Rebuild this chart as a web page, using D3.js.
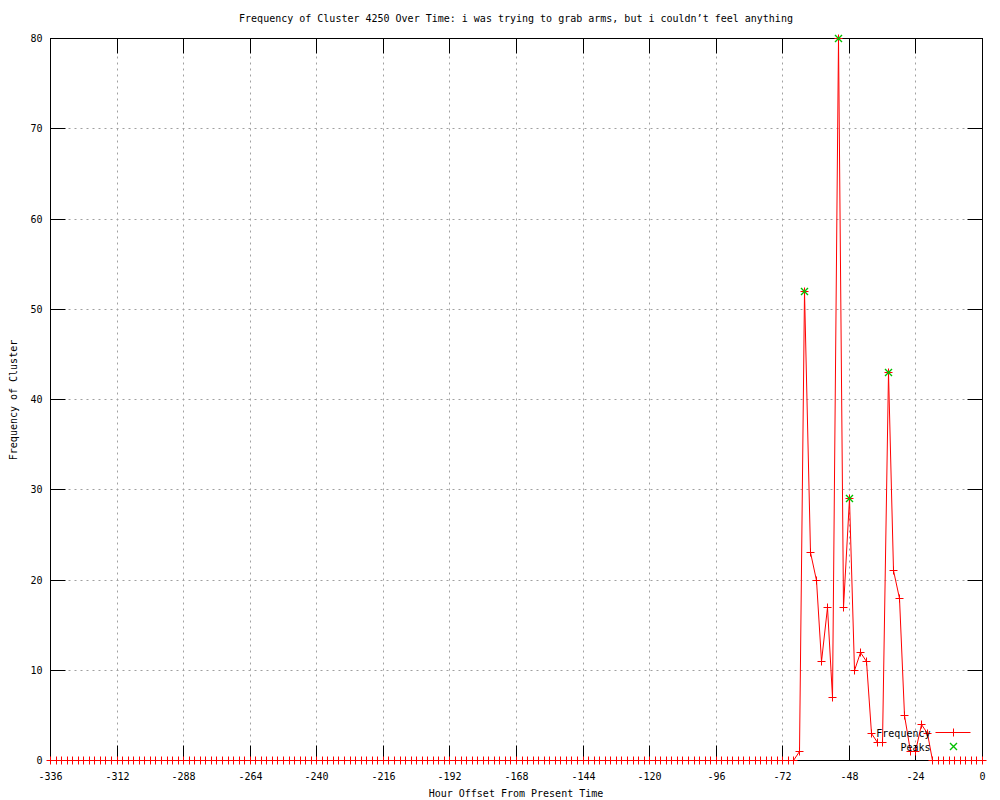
<html lang="en">
<head>
    <meta charset="UTF-8"/>
    <title>Frequency of Cluster 4250 Over Time</title>
    <script src="https://d3js.org/d3.v7.min.js"></script>
    <style>
        body { margin: 0; background: #fff; }
        text { font-family: "DejaVu Sans Mono", "Liberation Mono", monospace; font-size: 10px; fill: #000; }
    </style>
</head>
<body>
    <script>
        // hours before present, one sample every 2 hours
        var hours = d3.range(-336, 1, 2);
        var frequency = [
            0,0,0,0,0,0,0,0,0,0,0,0,0,0,0,0,0,0,0,0,
            0,0,0,0,0,0,0,0,0,0,0,0,0,0,0,0,0,0,0,0,
            0,0,0,0,0,0,0,0,0,0,0,0,0,0,0,0,0,0,0,0,
            0,0,0,0,0,0,0,0,0,0,0,0,0,0,0,0,0,0,0,0,
            0,0,0,0,0,0,0,0,0,0,0,0,0,0,0,0,0,0,0,0,
            0,0,0,0,0,0,0,0,0,0,0,0,0,0,0,0,0,0,0,0,
            0,0,0,0,0,0,0,0,0,0,0,0,0,0,0,
            1,52,23,20,11,17,7,80,17,29,10,12,11,3,2,2,43,21,18,5,1,1,4,3,
            0,0,0,0,0,0,0,0,0,0
        ];
        var peakHours = [-64, -52, -48, -34];
        var peakValues = [52, 80, 29, 43];
        var xTicks = [-336,-312,-288,-264,-240,-216,-192,-168,-144,-120,-96,-72,-48,-24,0];
        var yTicks = [0,10,20,30,40,50,60,70,80];

        var w = 1000, h = 800;
        var plotL = 50, plotR = 982, plotT = 38, plotB = 760;

        var svg = d3.select("body").append("svg")
            .attr("width", w)
            .attr("height", h);

        var g = svg.append("g").attr("transform", "translate(0.5,0.5)");

        var xScale = d3.scaleLinear().domain([-336, 0]).range([plotL, plotR]).interpolate(d3.interpolateRound);
        var yScale = d3.scaleLinear().domain([0, 80]).range([plotB, plotT]).interpolate(d3.interpolateRound);

        // grid
        g.append("g").selectAll("line")
            .data(xTicks.slice(1, -1))
            .enter().append("line")
            .attr("x1", function(d){ return xScale(d); })
            .attr("x2", function(d){ return xScale(d); })
            .attr("y1", plotT).attr("y2", plotB)
            .attr("stroke", "#a0a0a0").attr("stroke-dasharray", "2,4");
        g.append("g").selectAll("line")
            .data(yTicks.slice(1, -1))
            .enter().append("line")
            .attr("x1", plotL).attr("x2", plotR)
            .attr("y1", function(d){ return yScale(d); })
            .attr("y2", function(d){ return yScale(d); })
            .attr("stroke", "#a0a0a0").attr("stroke-dasharray", "2,4");

        // axes with inward ticks, mirrored on top and right
        var xAxis = g.append("g").attr("transform", "translate(0," + plotB + ")")
            .call(d3.axisBottom(xScale).offset(0).tickValues(xTicks).tickSize(-15).tickPadding(12).tickFormat(d3.format("d")));
        var xTop = g.append("g").attr("transform", "translate(0," + plotT + ")")
            .call(d3.axisTop(xScale).offset(0).tickValues(xTicks).tickSize(-15).tickFormat(""));
        var yAxis = g.append("g").attr("transform", "translate(" + plotL + ",0)")
            .call(d3.axisLeft(yScale).offset(0).tickValues(yTicks).tickSize(-15).tickPadding(8));
        var yRight = g.append("g").attr("transform", "translate(" + plotR + ",0)")
            .call(d3.axisRight(yScale).offset(0).tickValues(yTicks).tickSize(-15).tickFormat(""));

        [xAxis, xTop, yAxis, yRight].forEach(function(a){
            a.attr("font-family", null).attr("font-size", null);
            a.select(".domain").remove();
            a.selectAll("line").attr("stroke", "#000");
            a.selectAll("text").text(function(){ return d3.select(this).text().replace("−", "-"); });
        });

        // frequency line
        var points = hours.map(function(d, i){ return [d, frequency[i]]; });
        var line = d3.line()
            .x(function(d){ return xScale(d[0]); })
            .y(function(d){ return yScale(d[1]); });

        g.append("path")
            .datum(points)
            .attr("d", line)
            .attr("fill", "none")
            .attr("stroke", "#ff0000");

        // border over the line, markers over the border
        g.append("rect")
            .attr("x", plotL).attr("y", plotT)
            .attr("width", plotR - plotL).attr("height", plotB - plotT)
            .attr("fill", "none").attr("stroke", "#000");

        function plus(sel, color) {
            sel.append("line").attr("x1", -4).attr("x2", 4).attr("y1", 0).attr("y2", 0).attr("stroke", color);
            sel.append("line").attr("x1", 0).attr("x2", 0).attr("y1", -4).attr("y2", 4).attr("stroke", color);
        }
        function cross(sel, color) {
            sel.append("path")
                .attr("d", "M-3.5,-3.5L3.5,3.5M-3.5,3.5L3.5,-3.5")
                .attr("fill", "none")
                .attr("stroke", color)
                .attr("stroke-width", 1.4);
        }

        g.append("g").selectAll("g")
            .data(points)
            .enter().append("g")
            .attr("transform", function(d){ return "translate(" + xScale(d[0]) + "," + yScale(d[1]) + ")"; })
            .call(plus, "#ff0000");

        g.append("g").selectAll("g")
            .data(peakHours)
            .enter().append("g")
            .attr("transform", function(d, i){ return "translate(" + xScale(d) + "," + yScale(peakValues[i]) + ")"; })
            .call(cross, "#00c000");

        // legend
        var leg = g.append("g");
        leg.append("text").attr("x", 930).attr("y", 736).attr("text-anchor", "end").text("Frequency");
        leg.append("line").attr("x1", 935).attr("x2", 970).attr("y1", 732).attr("y2", 732).attr("stroke", "#ff0000");
        leg.append("g").attr("transform", "translate(953,732)").call(plus, "#ff0000");
        leg.append("text").attr("x", 930).attr("y", 750).attr("text-anchor", "end").text("Peaks");
        leg.append("g").attr("transform", "translate(953,746)").call(cross, "#00c000");

        // titles
        svg.append("text").attr("x", 516).attr("y", 22).attr("text-anchor", "middle")
            .text("Frequency of Cluster 4250 Over Time: i was trying to grab arms, but i couldn’t feel anything");
        svg.append("text").attr("x", 516).attr("y", 797).attr("text-anchor", "middle")
            .text("Hour Offset From Present Time");
        svg.append("text").attr("transform", "translate(17,400) rotate(-90)").attr("text-anchor", "middle")
            .text("Frequency of Cluster");
    </script>
</body>
</html>
